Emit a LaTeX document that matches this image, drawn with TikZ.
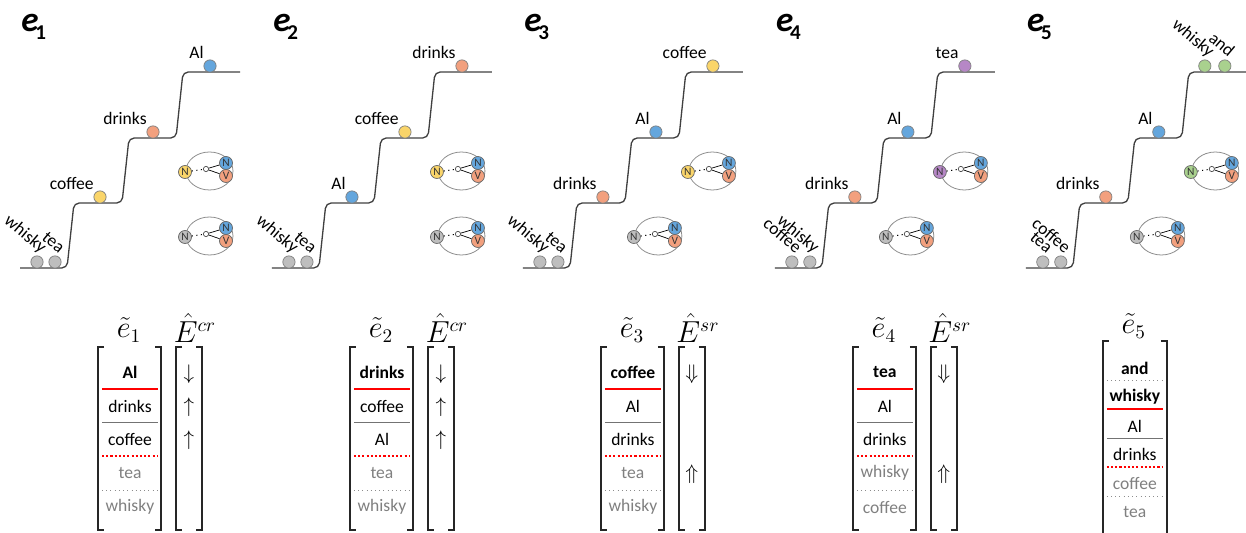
\documentclass[tikz,border=0pt]{standalone}
\usepackage{amsmath,amssymb}
\usepackage{fontspec}
\setmainfont{Carlito}
\usetikzlibrary{calc}

\definecolor{cblue}{HTML}{64A6DD}
\definecolor{csalmon}{HTML}{F2A07E}
\definecolor{cyellow}{HTML}{FAD56A}
\definecolor{cgray}{HTML}{BEBEBE}
\definecolor{cpurple}{HTML}{B687C6}
\definecolor{cgreen}{HTML}{A9D18E}
\definecolor{txtgray}{HTML}{808080}

\tikzset{
  stair/.style={draw=black!75, line width=0.75pt, rounded corners=3pt},
  ball/.style={circle, draw=black!50, line width=0.4pt, minimum size=7pt, inner sep=0pt},
  lbl/.style={font=\fontsize{10}{12}\selectfont, anchor=base east, inner sep=0pt},
  rotlbl/.style={lbl, rotate=-40},
  iconring/.style={draw=black!45, line width=0.45pt},
  vnode/.style={circle, draw=black!60, line width=0.4pt, minimum size=7.4pt, inner sep=0pt, font=\fontsize{6.5}{7}\selectfont, text=black!80},
  hub/.style={circle, draw=black!70, fill=white, line width=0.4pt, minimum size=3pt, inner sep=0pt},
  rowtxt/.style={font=\fontsize{10}{12}\selectfont, inner sep=0pt},
  rowbold/.style={font=\fontsize{10}{12}\selectfont\bfseries, inner sep=0pt},
  rowgray/.style={rowtxt, text=txtgray},
  arrtxt/.style={font=\fontsize{13}{15}\selectfont, inner sep=0pt},
  brk/.style={draw=black!85, line width=0.8pt},
  sepred/.style={draw=red, line width=1.2pt},
  sepreddot/.style={draw=red, line width=1.2pt, dash pattern=on 1.2pt off 1.2pt},
  sepgray/.style={draw=black!55, line width=0.5pt},
  sepgraydot/.style={draw=black!45, line width=0.4pt, dotted},
  mtitle/.style={font=\fontsize{16}{18}\selectfont, inner sep=0pt},
  ebig/.style={font=\fontsize{20}{24}\selectfont\bfseries\itshape, anchor=base west, inner sep=0pt},
  esub/.style={font=\fontsize{12}{14}\selectfont\bfseries, anchor=base west, inner sep=0pt},
}

% staircase of one panel
\newcommand{\stairs}{\draw[stair] (20,268) -- (67,268) -- (74,203) -- (122,203) -- (129,138) -- (176,138) -- (183,72) -- (240,72);}
% ball with its word above left
\newcommand{\wordball}[5]{%
  \node[ball, fill=#4] (#1) at (#2,#3) {};
  \node[lbl] (#1t) at (#2-6,#3-7) {#5};}
% ball with a tilted word
\newcommand{\tiltball}[5]{%
  \node[ball, fill=#4] (#1) at (#2,#3) {};
  \node[rotlbl] (#1t) at (#2+4,#3-8) {#5};}
% small N--V icon
\newcommand{\vnicon}[4]{%
  \draw[iconring] (#2+24.5,#3-1) ellipse [x radius=0.47cm, y radius=0.38cm];
  \node[vnode, fill=#4] (#1l) at (#2,#3) {N};
  \node[hub] (#1h) at (#2+21,#3-3) {};
  \node[vnode, fill=cblue] (#1n) at (#2+41,#3-9) {N};
  \node[vnode, fill=csalmon] (#1v) at (#2+41,#3+4) {V};
  \draw[dotted, line width=0.6pt] (#1l) -- (#1h);
  \draw[line width=0.4pt] (#1h) -- (#1n);
  \draw[line width=0.4pt] (#1h) -- (#1v);}
% word column
\newcommand{\stackcol}[7]{%
  \node[mtitle] (#1h) at (129,330) {$\tilde{e}_{#2}$};
  \node[rowbold] (#1r1) at (130,372) {#3};
  \node[rowtxt] (#1r2) at (130,406) {#4};
  \node[rowtxt] (#1r3) at (130,439) {#5};
  \node[rowgray] (#1r4) at (130,473) {#6};
  \node[rowgray] (#1r5) at (130,507) {#7};
  \draw[sepred] (102,389) -- (158,389);
  \draw[sepgray] (102,422.5) -- (158,422.5);
  \draw[sepreddot] (102,456) -- (158,456);
  \draw[sepgraydot] (102,490) -- (158,490);
  \draw[brk] (104,347) -- (98,347) -- (98,530) -- (104,530);
  \draw[brk] (155,347) -- (161,347) -- (161,530) -- (155,530);}
% arrow column
\newcommand{\arrowcol}[7]{%
  \node[mtitle] (#1h) at (195,328) {$\hat{E}^{#2}$};
  \node[arrtxt] (#1a1) at (189,374) {$#3$};
  \node[arrtxt] (#1a2) at (189,407) {$#4$};
  \node[arrtxt] (#1a3) at (189,440) {$#5$};
  \node[arrtxt] (#1a4) at (189,474) {$#6$};
  \node[arrtxt] (#1a5) at (189,508) {$#7$};
  \draw[brk] (182,347) -- (176,347) -- (176,530) -- (182,530);
  \draw[brk] (196,347) -- (202,347) -- (202,530) -- (196,530);}

\begin{document}
\begin{tikzpicture}[x=0.02cm, y=-0.02cm]
  \useasboundingbox (0,0) rectangle (1246,533);

  % panel e1
  \node[ebig] (e1) at (21,32) {e};
  \node[esub] (e1s) at (35,40) {1};
  \stairs
  \tiltball{p1b1}{37}{262}{cgray}{whisky}
  \tiltball{p1b2}{55}{262}{cgray}{tea}
  \wordball{p1b3}{100}{197}{cyellow}{coffee}
  \wordball{p1b4}{153}{132}{csalmon}{drinks}
  \wordball{p1b5}{210}{66}{cblue}{Al}
  \vnicon{p1u}{185}{172}{cyellow}
  \vnicon{p1d}{185}{237}{cgray}
  \stackcol{p1c}{1}{Al}{drinks}{coffee}{tea}{whisky}
  \arrowcol{p1e}{cr}{\downarrow}{\uparrow}{\uparrow}{}{}

  % panel e2
  \begin{scope}[xshift=5.04cm]
    \node[ebig] (e2) at (21,32) {e};
    \node[esub] (e2s) at (35,40) {2};
    \stairs
    \tiltball{p2b1}{37}{262}{cgray}{whisky}
    \tiltball{p2b2}{55}{262}{cgray}{tea}
    \wordball{p2b3}{100}{197}{cblue}{Al}
    \wordball{p2b4}{153}{132}{cyellow}{coffee}
    \wordball{p2b5}{210}{66}{csalmon}{drinks}
    \vnicon{p2u}{185}{172}{cyellow}
    \vnicon{p2d}{185}{237}{cgray}
    \stackcol{p2c}{2}{drinks}{coffee}{Al}{tea}{whisky}
    \arrowcol{p2e}{cr}{\downarrow}{\uparrow}{\uparrow}{}{}
  \end{scope}

  % panel e3
  \begin{scope}[xshift=10.06cm]
    \node[ebig] (e3) at (21,32) {e};
    \node[esub] (e3s) at (35,40) {3};
    \stairs
    \tiltball{p3b1}{37}{262}{cgray}{whisky}
    \tiltball{p3b2}{55}{262}{cgray}{tea}
    \wordball{p3b3}{100}{197}{csalmon}{drinks}
    \wordball{p3b4}{153}{132}{cblue}{Al}
    \wordball{p3b5}{210}{66}{cyellow}{coffee}
    \vnicon{p3u}{185}{172}{cyellow}
    \vnicon{p3d}{131}{237}{cgray}
    \stackcol{p3c}{3}{coffee}{Al}{drinks}{tea}{whisky}
    \arrowcol{p3e}{sr}{\Downarrow}{}{}{\Uparrow}{}
  \end{scope}

  % panel e4
  \begin{scope}[xshift=15.1cm]
    \node[ebig] (e4) at (21,32) {e};
    \node[esub] (e4s) at (35,40) {4};
    \stairs
    \tiltball{p4b1}{37}{262}{cgray}{coffee}
    \tiltball{p4b2}{55}{262}{cgray}{whisky}
    \wordball{p4b3}{100}{197}{csalmon}{drinks}
    \wordball{p4b4}{153}{132}{cblue}{Al}
    \wordball{p4b5}{210}{66}{cpurple}{tea}
    \vnicon{p4u}{185}{172}{cpurple}
    \vnicon{p4d}{131}{237}{cgray}
    \stackcol{p4c}{4}{tea}{Al}{drinks}{whisky}{coffee}
    \arrowcol{p4e}{sr}{\Downarrow}{}{}{\Uparrow}{}
  \end{scope}

  % panel e5
  \begin{scope}[xshift=20.12cm]
    \node[ebig] (e5) at (21,32) {e};
    \node[esub] (e5s) at (35,40) {5};
    \stairs
    \tiltball{p5b1}{37}{262}{cgray}{tea}
    \tiltball{p5b2}{55}{262}{cgray}{coffee}
    \wordball{p5b3}{100}{197}{csalmon}{drinks}
    \wordball{p5b4}{153}{132}{cblue}{Al}
    \tiltball{p5b5}{199}{66}{cgreen}{whisky}
    \tiltball{p5b6}{219}{66}{cgreen}{and}
    \vnicon{p5u}{185}{172}{cgreen}
    \vnicon{p5d}{131}{237}{cgray}
    % word column, six rows
    \node[mtitle] (p5ch) at (128,326) {$\tilde{e}_5$};
    \node[rowbold] (p5r1) at (129,368) {and};
    \node[rowbold] (p5r2) at (129,397) {whisky};
    \node[rowtxt] (p5r3) at (129,426) {Al};
    \node[rowtxt] (p5r4) at (129,454) {drinks};
    \node[rowgray] (p5r5) at (129,483) {coffee};
    \node[rowgray] (p5r6) at (129,512) {tea};
    \draw[sepgraydot] (101,380) -- (157,380);
    \draw[sepred] (101,409) -- (157,409);
    \draw[sepgray] (101,438) -- (157,438);
    \draw[sepreddot] (101,467) -- (157,467);
    \draw[sepgraydot] (101,496) -- (157,496);
    \draw[brk] (103,341) -- (97,341) -- (97,540);
    \draw[brk] (155,341) -- (161,341) -- (161,540);
  \end{scope}
\end{tikzpicture}
\end{document}
